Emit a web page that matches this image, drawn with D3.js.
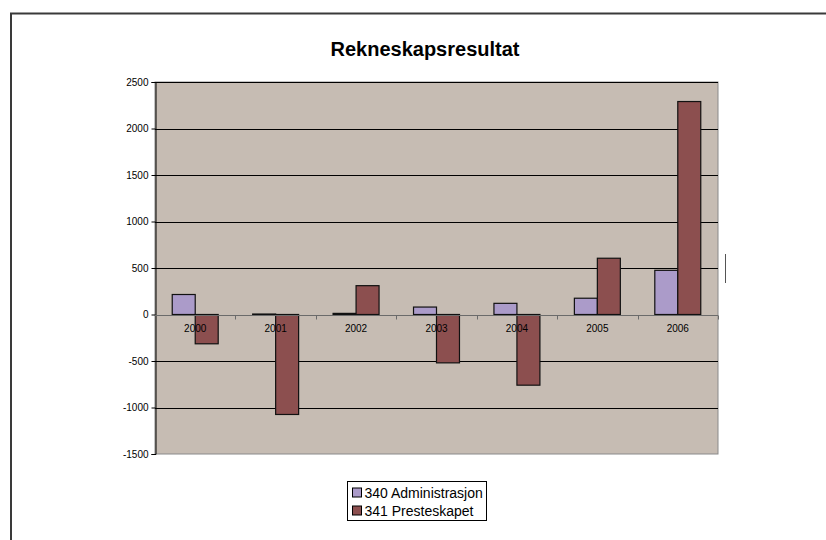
<!DOCTYPE html>
<html>
<head>
<meta charset="utf-8">
<script src="https://cdn.jsdelivr.net/npm/d3@7"></script>
<style>
  body { margin: 0; background: #fff; }
  svg text { font-family: "Liberation Sans", Arial, sans-serif; }
</style>
</head>
<body>
<div id="chart"></div>
<script>
// data
var years = ["2000", "2001", "2002", "2003", "2004", "2005", "2006"];
var seriesNames = ["340 Administrasjon", "341 Presteskapet"];
var admin = [215, 5, 12, 80, 120, 175, 475];
var prest = [-315, -1075, 310, -520, -760, 605, 2290];
var yTicks = [-1500, -1000, -500, 0, 500, 1000, 1500, 2000, 2500];
var colors = ["#ab9bc9", "#8c4f4f"];

var svgWidth = 826;
var svgHeight = 540;

var margin = { top: 82, right: 108, bottom: 86, left: 155 };
var width = svgWidth - margin.left - margin.right;
var height = svgHeight - margin.top - margin.bottom;

var svg = d3.select("#chart").append("svg")
  .attr("width", svgWidth)
  .attr("height", svgHeight);

// outer frame (top and left edges visible)
svg.append("path")
  .attr("d", "M11,540 V13.5 H826")
  .attr("fill", "none")
  .attr("stroke", "#3a3a3a")
  .attr("stroke-width", 2);

// title
svg.append("text")
  .attr("x", 425)
  .attr("y", 56)
  .attr("text-anchor", "middle")
  .style("font-size", "20px")
  .style("font-weight", "bold")
  .text("Rekneskapsresultat");

var chartGroup = svg.append("g")
  .attr("transform", `translate(${margin.left}, ${margin.top})`);

// scales
var x0 = d3.scaleBand()
  .domain(years)
  .range([0, width])
  .paddingInner(0)
  .paddingOuter(0);

// gap between groups = 150% of one bar, split on both sides
var x1 = d3.scaleBand()
  .domain([0, 1])
  .range([0, x0.bandwidth()])
  .paddingInner(0)
  .paddingOuter(0.75);

var y = d3.scaleLinear()
  .domain([-1500, 2500])
  .range([height, 0]);

// plot background
chartGroup.append("rect")
  .attr("width", width)
  .attr("height", height)
  .attr("fill", "#c6bcb3")
  .attr("stroke", "#8a8a8a")
  .attr("stroke-width", 1);

// gridlines
chartGroup.append("g")
  .selectAll("line")
  .data(yTicks.filter(d => d !== 0 && d !== -1500))
  .enter()
  .append("line")
  .attr("x1", 0)
  .attr("x2", width)
  .attr("y1", d => Math.round(y(d)) + 0.5)
  .attr("y2", d => Math.round(y(d)) + 0.5)
  .attr("stroke", "#000")
  .attr("stroke-width", 1);

// bars
var data = years.map((yr, i) => ({ year: yr, values: [admin[i], prest[i]] }));

var groups = chartGroup.selectAll(".grp")
  .data(data)
  .enter()
  .append("g")
  .attr("transform", d => `translate(${x0(d.year)},0)`);

groups.selectAll("rect")
  .data(d => d.values.map((v, k) => ({ k: k, v: v })))
  .enter()
  .append("rect")
  .attr("x", d => x1(d.k))
  .attr("width", x1.bandwidth())
  .attr("y", d => y(Math.max(0, d.v)))
  .attr("height", d => Math.abs(y(d.v) - y(0)))
  .attr("fill", d => colors[d.k])
  .attr("stroke", "#111")
  .attr("stroke-width", 1.2);

// left axis
var leftAxis = d3.axisLeft(y)
  .tickValues(yTicks)
  .tickSize(4)
  .tickPadding(3)
  .tickFormat(d => String(d));

var yAxisG = chartGroup.append("g")
  .attr("transform", "translate(0.5,0)")
  .call(leftAxis);
yAxisG.select(".domain").attr("stroke", "#000");
yAxisG.selectAll("text")
  .style("font-size", "10px")
  .attr("fill", "#000");

// zero axis with category ticks
var zeroY = Math.round(y(0)) + 0.5;
var zeroG = chartGroup.append("g");
zeroG.append("line")
  .attr("x1", 0)
  .attr("x2", width)
  .attr("y1", zeroY)
  .attr("y2", zeroY)
  .attr("stroke", "#6b6b6b")
  .attr("stroke-width", 1.2);

zeroG.selectAll(".tk")
  .data(years.slice(1).concat(["end"]))
  .enter()
  .append("line")
  .attr("x1", (d, i) => Math.round(x0.step() * (i + 1)) + 0.5)
  .attr("x2", (d, i) => Math.round(x0.step() * (i + 1)) + 0.5)
  .attr("y1", zeroY)
  .attr("y2", zeroY + 4)
  .attr("stroke", "#6b6b6b");

zeroG.selectAll(".lbl")
  .data(years)
  .enter()
  .append("text")
  .attr("x", d => x0(d) + x0.bandwidth() / 2)
  .attr("y", zeroY + 16)
  .attr("text-anchor", "middle")
  .style("font-size", "10px")
  .attr("fill", "#000")
  .text(d => d);

// small stray marker at the right of the plot
svg.append("line")
  .attr("x1", 725.5)
  .attr("x2", 725.5)
  .attr("y1", 254)
  .attr("y2", 283)
  .attr("stroke", "#555")
  .attr("stroke-width", 1);

// legend
var legend = svg.append("g")
  .attr("transform", "translate(347.5,481.5)");

legend.append("rect")
  .attr("width", 139)
  .attr("height", 39)
  .attr("fill", "#fff")
  .attr("stroke", "#000")
  .attr("stroke-width", 1);

var items = legend.selectAll(".item")
  .data(seriesNames)
  .enter()
  .append("g")
  .attr("transform", (d, i) => `translate(5,${5 + i * 18})`);

items.append("rect")
  .attr("width", 9)
  .attr("height", 9)
  .attr("y", 1.5)
  .attr("fill", (d, i) => colors[i])
  .attr("stroke", "#000")
  .attr("stroke-width", 1);

items.append("text")
  .attr("x", 12)
  .attr("y", 11)
  .style("font-size", "14px")
  .attr("fill", "#000")
  .text(d => d);
</script>
</body>
</html>
